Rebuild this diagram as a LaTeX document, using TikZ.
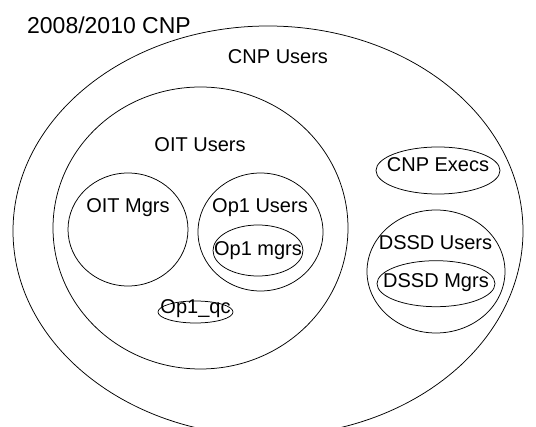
\documentclass[tikz,border=0pt]{standalone}
\usepackage{fontspec}
\setmainfont{Liberation Sans}

\tikzset{every picture/.style={line width=0.75pt}}
\tikzset{lbl/.style={font=\fontsize{20}{24}\selectfont, inner sep=0pt}}

\begin{document}
\begin{tikzpicture}[x=1pt,y=1pt,yscale=-1,xscale=1]
\useasboundingbox (0,0) rectangle (536,427);
\clip (0,0) rectangle (536,427);

%Shape: Ellipse (CNP)
\draw   (268,231) ellipse [x radius=255, y radius=205] ;
%Shape: Ellipse (OIT Users)
\draw   (200.5,228) ellipse [x radius=147.5, y radius=141] ;
%Shape: Ellipse (OIT Mgrs)
\draw   (128,229.5) ellipse [x radius=60, y radius=56.5] ;
%Shape: Ellipse (Op1 Users)
\draw   (260.5,232) ellipse [x radius=62.5, y radius=59] ;
%Shape: Ellipse (Op1 mgrs)
\draw   (258,250.5) ellipse [x radius=45, y radius=25.5] ;
%Shape: Ellipse (Op1_qc)
\draw   (195.5,312) ellipse [x radius=37.5, y radius=11] ;
%Shape: Ellipse (CNP Execs)
\draw   (438,170.5) ellipse [x radius=62, y radius=23.5] ;
%Shape: Ellipse (DSSD Users)
\draw   (436,271.5) ellipse [x radius=69, y radius=61.5] ;
%Shape: Ellipse (DSSD Mgrs)
\draw   (436,283.7) ellipse [x radius=59, y radius=23] ;

% Text Node
\node [lbl, font=\fontsize{23}{27}\selectfont] (title) at (109,25) {2008/2010 CNP};
% Text Node
\node [lbl] (cnpusers) at (278,57) {CNP Users};
% Text Node
\node [lbl] (oitusers) at (200,145) {OIT Users};
% Text Node
\node [lbl] (oitmgrs) at (128,208) {OIT Mgrs};
% Text Node
\node [lbl] (op1users) at (260,208) {Op1 Users};
% Text Node
\node [lbl] (op1mgrs) at (258,251) {Op1 mgrs};
% Text Node
\node [lbl] (op1qc) at (195.5,309) {Op1\_qc};
% Text Node
\node [lbl] (cnpexecs) at (438,165) {CNP Execs};
% Text Node
\node [lbl] (dssdusers) at (435.5,243) {DSSD Users};
% Text Node
\node [lbl] (dssdmgrs) at (436,283) {DSSD Mgrs};

\end{tikzpicture}
\end{document}
